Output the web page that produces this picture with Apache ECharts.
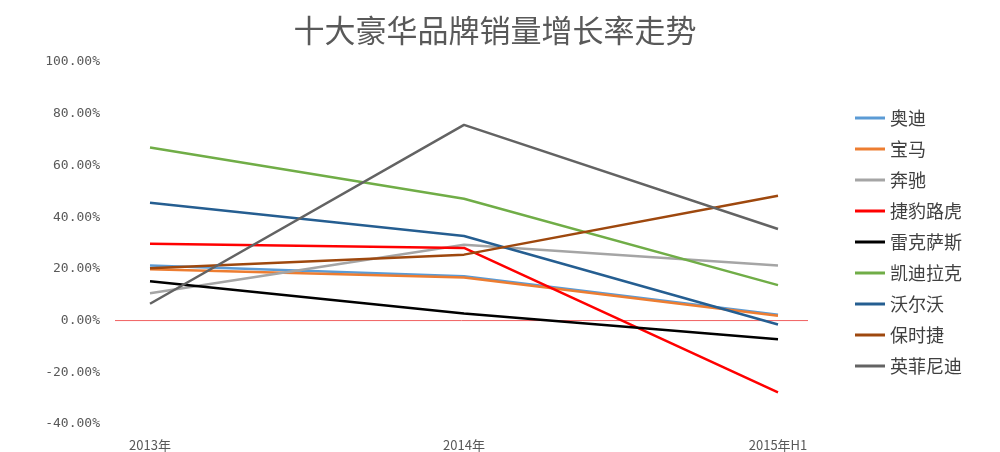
<!DOCTYPE html>
<html><head><meta charset="utf-8">
<script src="https://cdn.jsdelivr.net/npm/echarts@6/dist/echarts.min.js"></script>
<style>html,body{margin:0;padding:0;background:#fff}#c{width:1000px;height:452px}</style>
</head><body><div id="c"></div>
<script>
const categories = ['2013年','2014年','2015年H1'];
const names = ['奥迪','宝马','奔驰','捷豹路虎','雷克萨斯','凯迪拉克','沃尔沃','保时捷','英菲尼迪'];
const colors = ['#5b9bd5','#ed7d31','#a5a5a5','#ff0000','#000000','#70ad47','#255e91','#9e480e','#636363'];
const audi = [21.3,17.1,2.3];
const bmw = [19.8,16.7,1.9];
const benz = [10.6,29.3,21.3];
const jlr = [29.7,28.1,-27.8];
const lexus = [15.2,2.7,-7.2];
const cadillac = [66.9,47.1,13.7];
const volvo = [45.6,32.7,-1.5];
const porsche = [20.2,25.5,48.3];
const infiniti = [6.5,75.7,35.4];
const values = [audi,bmw,benz,jlr,lexus,cadillac,volvo,porsche,infiniti];
const chart = echarts.init(document.getElementById('c'));
chart.setOption({
  animation:false,
  title:{text:'十大豪华品牌销量增长率走势',left:490,top:10,textAlign:'center',
    textStyle:{fontSize:31,fontWeight:'normal',color:'#595959',fontFamily:'Noto Sans CJK SC'}},
  legend:{orient:'vertical',left:850,top:104,itemGap:13,itemWidth:30,itemHeight:3,icon:'rect',
    textStyle:{fontSize:18,color:'#404040',fontFamily:'Noto Sans CJK SC'},data:names},
  grid:{left:150,right:222,top:62,bottom:21},
  xAxis:{type:'category',data:categories,boundaryGap:false,
    axisLine:{show:true,onZero:true,lineStyle:{color:'rgba(0,0,0,0)'}},axisTick:{show:false},
    axisLabel:{margin:15,color:'#595959',fontSize:13,fontFamily:'Noto Sans CJK SC'}},
  yAxis:{type:'value',min:-40,max:100,interval:20,splitLine:{show:false},
    axisLabel:{margin:50,color:'#595959',fontSize:13,fontFamily:'DejaVu Sans Mono',formatter:v=>v.toFixed(2)+'%'}},
  series:names.map((n,i)=>({name:n,type:'line',data:values[i],symbol:'none',
    lineStyle:{width:2.5,color:colors[i]},itemStyle:{color:colors[i]}}))
});
const y0 = chart.convertToPixel({yAxisIndex:0},0);
chart.setOption({graphic:[{type:'line',shape:{x1:115,y1:y0,x2:808,y2:y0},style:{stroke:'#f06060',lineWidth:1},z:0}]});
</script></body></html>
